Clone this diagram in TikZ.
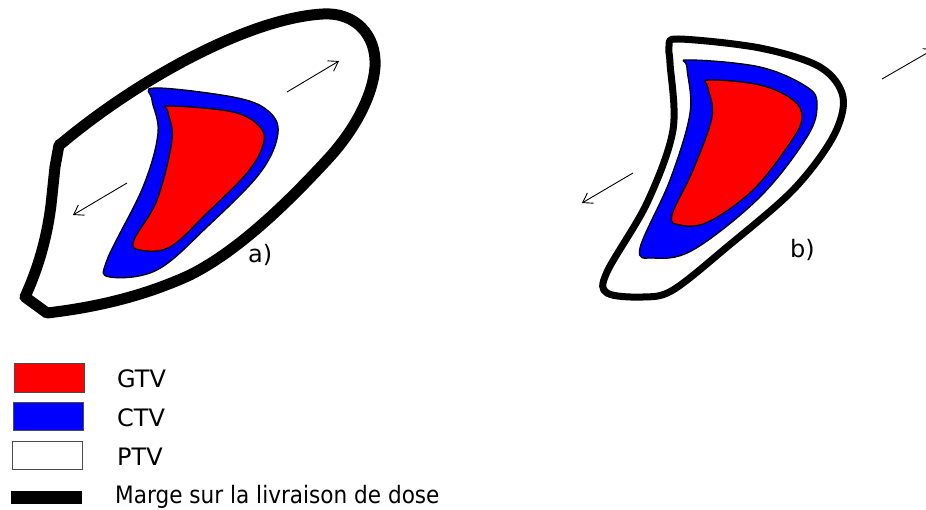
\documentclass[tikz,border=0pt]{standalone}
\usepackage{fontspec}
\setmainfont{DejaVu Sans}
\usetikzlibrary{arrows.meta}
\tikzset{
  marge/.style={draw=black, fill=white, line width=11pt, line join=round},
  ctv/.style={draw=black, fill=blue, line width=1.3pt},
  gtv/.style={draw=black, fill=red, line width=1.3pt},
  shift arrow/.style={-{Straight Barb[length=9pt,width=12pt]}, line width=0.9pt},
  legend box/.style={draw=black!70, line width=0.8pt, minimum width=70pt, minimum height=28pt, inner sep=0pt},
  legend text/.style={anchor=base west, inner sep=0pt, font=\fontsize{24}{28}\selectfont}
}

\begin{document}
\begin{tikzpicture}[x=1pt, y=-1pt]
  \useasboundingbox (0,0) rectangle (926,510);
  % a) large margin
  \draw[marge] (59,145) -- (62,143) .. controls (140,78) and (250,18) .. (323,14)
    .. controls (355,12) and (377,35) .. (375,67) .. controls (373,95) and (355,130) .. (327,160)
    .. controls (290,200) and (240,250) .. (190,275) .. controls (140,298) and (90,308) .. (47,313)
    -- (25,297) .. controls (35,275) and (46,245) .. (51,205) -- (55,167) -- cycle;
  \draw[ctv] plot[smooth cycle, tension=0.6] coordinates {(155,88) (233,97) (267,110) (278,133) (260,173) (207,227) (157,270) (110,277) (107,260) (143,187) (158,133) (152,100)};
  \draw[gtv] plot[smooth cycle, tension=0.6] coordinates {(170,106) (233,112) (260,127) (263,145) (247,173) (207,213) (170,247) (140,250) (134,240) (157,200) (172,140) (168,112)};
  \coordinate (aR0) at (287,92);  \coordinate (aR1) at (339,61);
  \coordinate (aL0) at (127,183); \coordinate (aL1) at (73,215);
  \draw[shift arrow] (aR0) -- (aR1);
  \draw[shift arrow] (aL0) -- (aL1);
  \node[legend text] (alabel) at (248,263) {a)};
  % b) small margin
  \draw[marge, line width=7pt] plot[smooth cycle, tension=0.55] coordinates {(679,39) (760,48) (820,67) (843,97) (833,137) (793,190) (727,247) (673,290) (643,297) (607,293) (607,272) (647,203) (673,130) (670,63) (669,46)};
  \draw[ctv] plot[smooth cycle, tension=0.6] coordinates {(689,60) (760,67) (807,87) (817,105) (807,137) (760,197) (693,250) (653,258) (640,248) (670,180) (690,113) (687,68)};
  \draw[gtv] plot[smooth cycle, tension=0.6] coordinates {(709,80) (760,85) (793,100) (802,118) (790,143) (753,190) (708,222) (680,225) (672,215) (693,170) (712,117) (708,88)};
  \coordinate (bR0) at (882,79); \coordinate (bR1) at (934,49);
  \coordinate (bL0) at (633,173); \coordinate (bL1) at (582,203);
  \draw[shift arrow] (bR0) -- (bR1);
  \draw[shift arrow] (bL0) -- (bL1);
  \node[legend text] (blabel) at (790,258) {b)};
  % Legend
  \node[legend box, fill=red, minimum height=29pt] (gtvbox) at (49,377.5) {};
  \node[legend box, fill=blue] (ctvbox) at (48,416) {};
  \node[legend box, fill=white] (ptvbox) at (47,455) {};
  \node[fill=black, minimum width=71pt, minimum height=13pt, inner sep=0pt] (margebox) at (46.5,497.5) {};
  \node[legend text] (gtvtxt) at (117,387) {GTV};
  \node[legend text] (ctvtxt) at (117,426) {CTV};
  \node[legend text] (ptvtxt) at (117,465) {PTV};
  \node[legend text] (margetxt) at (115,503) {\scalebox{0.9}[1]{Marge sur la livraison de dose}};
\end{tikzpicture}
\end{document}
